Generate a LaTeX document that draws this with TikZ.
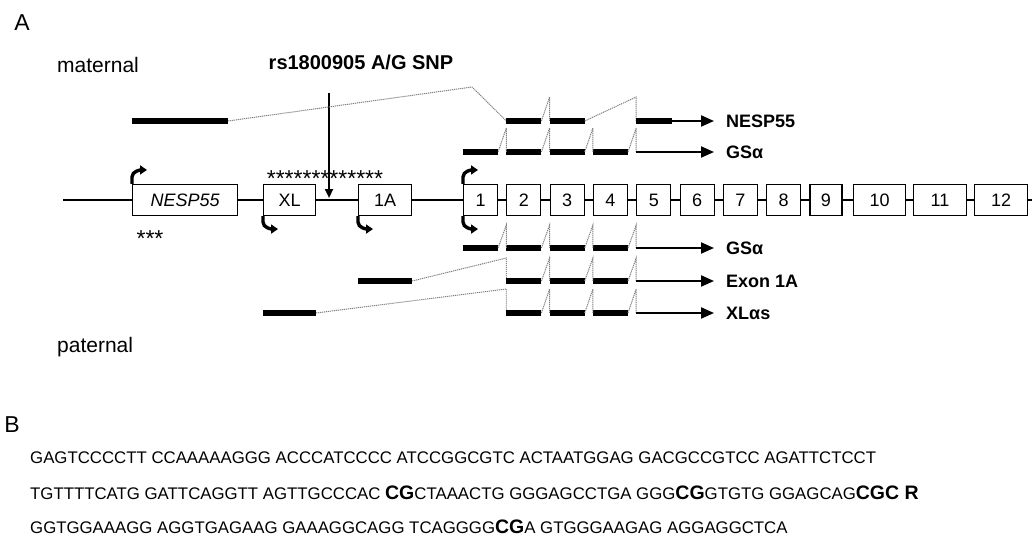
\documentclass[tikz,border=0pt]{standalone}
\usepackage{fontspec}
\setmainfont{Liberation Sans}
\usetikzlibrary{arrows.meta}
\newcommand\cgb[1]{{\bfseries\fontsize{19.5}{20}\selectfont #1}}
\begin{document}
\begin{tikzpicture}[x=1pt,y=-1pt,
  gbox/.style={draw, fill=white, line width=1.1pt, minimum height=31pt, inner sep=0pt,
    font=\fontsize{18}{20}\selectfont, anchor=west},
  exon/.style={line width=5.5pt},
  splice/.style={draw=black!50, line width=1pt, dash pattern=on 1.2pt off 0.8pt},
  tline/.style={line width=2pt, -{Triangle[length=13pt,width=11pt]}},
  prom/.style={line width=3.4pt, -{Triangle[length=7pt,width=9pt]}},
  tlabel/.style={font=\bfseries\fontsize{18}{20}\selectfont, anchor=west, inner sep=0pt},
  seq/.style={font=\fontsize{16.8}{18}\selectfont, anchor=west, inner sep=0pt},
  panel/.style={font=\fontsize{23}{24}\selectfont, inner sep=0pt},
  stars/.style={font=\fontsize{23}{23}\selectfont, inner sep=0pt, anchor=base}
]
\useasboundingbox (0,0) rectangle (1032,541);

% panel labels
\node[panel] (pA) at (22,23) {A};
\node[panel] (pB) at (12,425) {B};
\node[font=\fontsize{21}{22}\selectfont, anchor=west, inner sep=0pt] (mat) at (57,65) {maternal};
\node[font=\fontsize{21}{22}\selectfont, anchor=west, inner sep=0pt] (pat) at (57,347) {paternal};
\node[font=\bfseries\fontsize{20}{22}\selectfont, inner sep=0pt] (rs) at (361,62) {rs1800905 A/G SNP};

% gene line and boxes
\coordinate (gl) at (63,200);
\coordinate (gr) at (1032,200);
\draw[line width=1.1pt] (gl) -- (gr);
\node[gbox, minimum width=105pt, font=\itshape\fontsize{18}{20}\selectfont] (nesp) at (132,200) {NESP55};
\node[gbox, minimum width=52pt] (xl) at (263,200) {XL};
\node[gbox, minimum width=53pt] (a1) at (358,200) {1A};
\foreach \n/\x/\w in {1/463/34, 2/506.3/34, 3/549.6/34, 4/592.9/34, 5/636.2/34,
  6/679.5/34, 7/722.8/34, 8/766.1/34, 9/809.4/32, 10/853/52, 11/913/53, 12/974/53}
  {\node[gbox, minimum width=\w pt] (b\n) at (\x,200) {\n};}

% stars
\node[stars] (st13) at (325,186) {*************};
\node[stars] (st3) at (150,246) {***};

% SNP arrow
\coordinate (snp) at (329,93);
\coordinate (snptip) at (329,198);
\draw[line width=2.2pt, -{Triangle[length=9pt,width=8pt]}] (snp) -- (snptip);

% promoter arrows
\draw[prom] (nesp.north west) -- ++(0,-7) .. controls +(0,-6) and +(-6,0) .. ++(15,-7);
\draw[prom] (b1.north west) -- ++(0,-7) .. controls +(0,-6) and +(-6,0) .. ++(15,-7);
\draw[prom] (xl.south west) -- ++(0,6) .. controls +(0,6) and +(-6,0) .. ++(15,7);
\draw[prom] (a1.south west) -- ++(0,6) .. controls +(0,6) and +(-6,0) .. ++(15,7);
\draw[prom] (b1.south west) -- ++(0,6) .. controls +(0,6) and +(-6,0) .. ++(15,7);

% row coordinates
\coordinate (rN) at (0,121); \coordinate (pN) at (0,97);
\coordinate (rG) at (0,152); \coordinate (pG) at (0,128);
\coordinate (rL) at (0,248); \coordinate (pL) at (0,225);
\coordinate (rE) at (0,281); \coordinate (pE) at (0,258);
\coordinate (rX) at (0,313); \coordinate (pX) at (0,289);
\coordinate (tipN) at (714,121);
\coordinate (tipG) at (714,152);
\coordinate (tipL) at (714,248);
\coordinate (tipE) at (714,281);
\coordinate (tipX) at (714,313);

% maternal NESP55 transcript
\coordinate (nespend) at (228,121);
\coordinate (mpk) at (472,87);
\coordinate (n5end) at (672,121);
\draw[exon] (nesp.west |- rN) -- (nespend);
\draw[splice] (nespend) -- (mpk) -- (b2.west |- rN);
\draw[exon] (b2.west |- rN) -- (b2.east |- rN);
\draw[splice] (b2.east |- rN) -- (b3.west |- pN) -- (b3.west |- rN);
\draw[exon] (b3.west |- rN) -- (b3.east |- rN);
\draw[splice] (b3.east |- rN) -- (b5.west |- pN) -- (b5.west |- rN);
\draw[exon] (b5.west |- rN) -- (n5end);
\draw[tline] (n5end) -- (tipN);
\node[tlabel] (lN) at (726,121) {NESP55};

% maternal GSalpha
\foreach \i in {1,2,3,4} {\draw[exon] (b\i.west |- rG) -- (b\i.east |- rG);}
\foreach \i/\j in {1/2,2/3,3/4,4/5} {\draw[splice] (b\i.east |- rG) -- (b\j.west |- pG) -- (b\j.west |- rG);}
\draw[tline] (b5.west |- rG) -- (tipG);
\node[tlabel] (lG) at (726,152) {GSα};

% paternal GSalpha
\foreach \i in {1,2,3,4} {\draw[exon] (b\i.west |- rL) -- (b\i.east |- rL);}
\foreach \i/\j in {1/2,2/3,3/4,4/5} {\draw[splice] (b\i.east |- rL) -- (b\j.west |- pL) -- (b\j.west |- rL);}
\draw[tline] (b5.west |- rL) -- (tipL);
\node[tlabel] (lL) at (726,248) {GSα};

% Exon 1A
\draw[exon] (a1.west |- rE) -- (a1.east |- rE);
\draw[splice] (a1.east |- rE) -- (b2.west |- pE) -- (b2.west |- rE);
\foreach \i in {2,3,4} {\draw[exon] (b\i.west |- rE) -- (b\i.east |- rE);}
\foreach \i/\j in {2/3,3/4,4/5} {\draw[splice] (b\i.east |- rE) -- (b\j.west |- pE) -- (b\j.west |- rE);}
\draw[tline] (b5.west |- rE) -- (tipE);
\node[tlabel] (lE) at (726,281) {Exon 1A};

% XLalphas
\draw[exon] (xl.west |- rX) -- (xl.east |- rX);
\draw[splice] (xl.east |- rX) -- (b2.west |- pX) -- (b2.west |- rX);
\foreach \i in {2,3,4} {\draw[exon] (b\i.west |- rX) -- (b\i.east |- rX);}
\foreach \i/\j in {2/3,3/4,4/5} {\draw[splice] (b\i.east |- rX) -- (b\j.west |- pX) -- (b\j.west |- rX);}
\draw[tline] (b5.west |- rX) -- (tipX);
\node[tlabel] (lX) at (726,313) {XLαs};

% sequence
\node[seq] (s1) at (30,458) {GAGTCCCCTT CCAAAAAGGG ACCCATCCCC ATCCGGCGTC ACTAATGGAG GACGCCGTCC AGATTCTCCT};
\node[seq] (s2) at (30,493) {TGTTTTCATG GATTCAGGTT AGTTGCCCAC \cgb{CG}CTAAACTG GGGAGCCTGA GGG\cgb{CG}GTGTG GGAGCAG\cgb{CGC R}};
\node[seq] (s3) at (30,527) {GGTGGAAAGG AGGTGAGAAG GAAAGGCAGG TCAGGGG\cgb{CG}A GTGGGAAGAG AGGAGGCTCA};
\end{tikzpicture}
\end{document}
